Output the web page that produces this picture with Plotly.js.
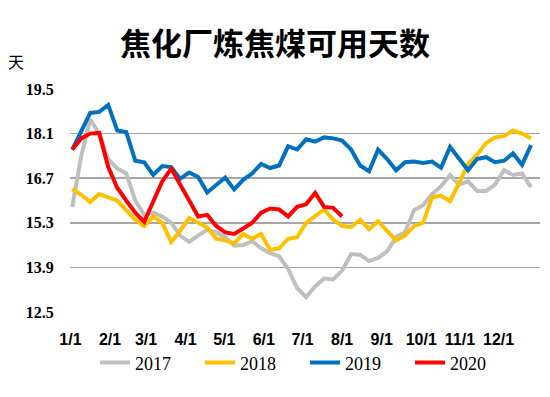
<!DOCTYPE html>
<html>
<head>
<meta charset="utf-8">
<script src="https://cdn.plot.ly/plotly-3.0.1.min.js"></script>
<style>
  html, body { margin: 0; padding: 0; background: #ffffff; }
  #chart { width: 550px; height: 397px; }
</style>
</head>
<body>
<div id="chart"></div>
<script>
// Weekly observations (index = week of year)
const series2017 = [15.8, 17.4, 18.55, 18.1, 17.3, 17.0, 16.85, 16.0, 15.55, 15.62, 15.5, 15.3, 14.9, 14.7, 14.9, 15.08, 15.0, 14.85, 14.58, 14.6, 14.72, 14.5, 14.35, 14.25, 13.85, 13.25, 12.97, 13.3, 13.55, 13.52, 13.8, 14.32, 14.3, 14.1, 14.2, 14.4, 14.85, 15.0, 15.7, 15.85, 16.2, 16.45, 16.8, 16.5, 16.6, 16.3, 16.3, 16.5, 16.95, 16.8, 16.85, 16.42];
const series2018 = [16.36, 16.18, 15.95, 16.2, 16.1, 16.0, 15.7, 15.4, 15.2, 15.5, 15.3, 14.7, 15.05, 15.45, 15.3, 15.15, 14.8, 14.75, 14.65, 14.95, 14.8, 14.95, 14.45, 14.5, 14.8, 14.85, 15.3, 15.5, 15.72, 15.4, 15.2, 15.17, 15.4, 15.1, 15.35, 15.05, 14.75, 14.9, 15.2, 15.3, 16.1, 16.15, 15.98, 16.55, 17.15, 17.43, 17.8, 17.98, 18.02, 18.2, 18.1, 17.95];
const series2019 = [17.6, 18.2, 18.75, 18.78, 19.0, 18.2, 18.15, 17.25, 17.2, 16.8, 17.08, 17.05, 16.68, 16.88, 16.74, 16.25, 16.5, 16.72, 16.35, 16.65, 16.85, 17.15, 17.02, 17.1, 17.7, 17.6, 17.92, 17.85, 17.98, 17.95, 17.88, 17.6, 17.1, 16.92, 17.6, 17.3, 16.95, 17.2, 17.22, 17.18, 17.22, 17.03, 17.68, 17.3, 16.95, 17.3, 17.36, 17.2, 17.25, 17.48, 17.12, 17.74];
const series2020 = [17.6, 17.95, 18.1, 18.12, 17.05, 16.4, 16.0, 15.62, 15.33, 16.0, 16.6, 17.0, 16.5, 15.95, 15.5, 15.55, 15.2, 15.0, 14.95, 15.12, 15.3, 15.62, 15.75, 15.72, 15.5, 15.8, 15.88, 16.24, 15.8, 15.77, 15.5];

const seriesNames = ['2017', '2018', '2019', '2020'];
const monthLabels = ['1/1', '2/1', '3/1', '4/1', '5/1', '6/1', '7/1', '8/1', '9/1', '10/1', '11/1', '12/1'];
const monthStartWeek = [-0.2, 4.2, 8.2, 12.6, 16.9, 21.3, 25.6, 30.0, 34.4, 38.8, 43.1, 47.4];
const yTicks = [12.5, 13.9, 15.3, 16.7, 18.1, 19.5];

const colors = ['#bfbfbf', '#ffc000', '#0070c0', '#ff0000'];
const allSeries = [series2017, series2018, series2019, series2020];

const traces = allSeries.map((vals, k) => ({
  type: 'scatter',
  mode: 'lines',
  name: seriesNames[k],
  x: vals.map((_, i) => i),
  y: vals,
  line: { color: colors[k], width: 4 },
  hoverinfo: 'skip'
}));

const layout = {
  width: 550,
  height: 397,
  margin: { l: 70, r: 10, t: 89, b: 85 },
  paper_bgcolor: '#ffffff',
  plot_bgcolor: '#ffffff',
  title: {
    text: '焦化厂炼焦煤可用天数',
    font: { family: 'Noto Sans CJK SC', size: 31, color: '#000000', weight: 'bold' },
    x: 0.5, xanchor: 'center',
    y: 40, yref: 'container', yanchor: 'middle'
  },
  xaxis: {
    range: [-0.25, 52],
    tickmode: 'array',
    tickvals: monthStartWeek,
    ticktext: monthLabels,
    showgrid: false,
    zeroline: false,
    showline: false,
    ticks: 'outside',
    ticklen: 13,
    tickcolor: 'rgba(0,0,0,0)',
    tickfont: { family: 'Liberation Sans', size: 16, color: '#000000', weight: 'bold' },
    fixedrange: true
  },
  yaxis: {
    range: [12.5, 19.5],
    tickmode: 'array',
    tickvals: yTicks,
    ticktext: yTicks.map(v => v.toFixed(1)),
    showgrid: true,
    gridcolor: '#a6a6a6',
    gridwidth: 1.5,
    zeroline: false,
    showline: false,
    ticks: 'outside',
    ticklen: 12,
    tickcolor: 'rgba(0,0,0,0)',
    tickfont: { family: 'Liberation Serif', size: 16, color: '#000000', weight: 'bold' },
    fixedrange: true
  },
  showlegend: true,
  legend: {
    orientation: 'h',
    x: 0.5, xanchor: 'center',
    y: -0.145, yanchor: 'top',
    entrywidth: 60,
    entrywidthmode: 'pixels',
    font: { family: 'Liberation Serif', size: 18, color: '#000000' },
    bgcolor: 'rgba(0,0,0,0)'
  },
  annotations: [{
    text: '天',
    xref: 'paper', yref: 'paper',
    x: -0.115, y: 1.125,
    xanchor: 'center', yanchor: 'middle',
    showarrow: false,
    font: { family: 'Noto Sans CJK SC', size: 16, color: '#000000' }
  }]
};

Plotly.newPlot('chart', traces, layout, { displayModeBar: false, staticPlot: true });
</script>
</body>
</html>
